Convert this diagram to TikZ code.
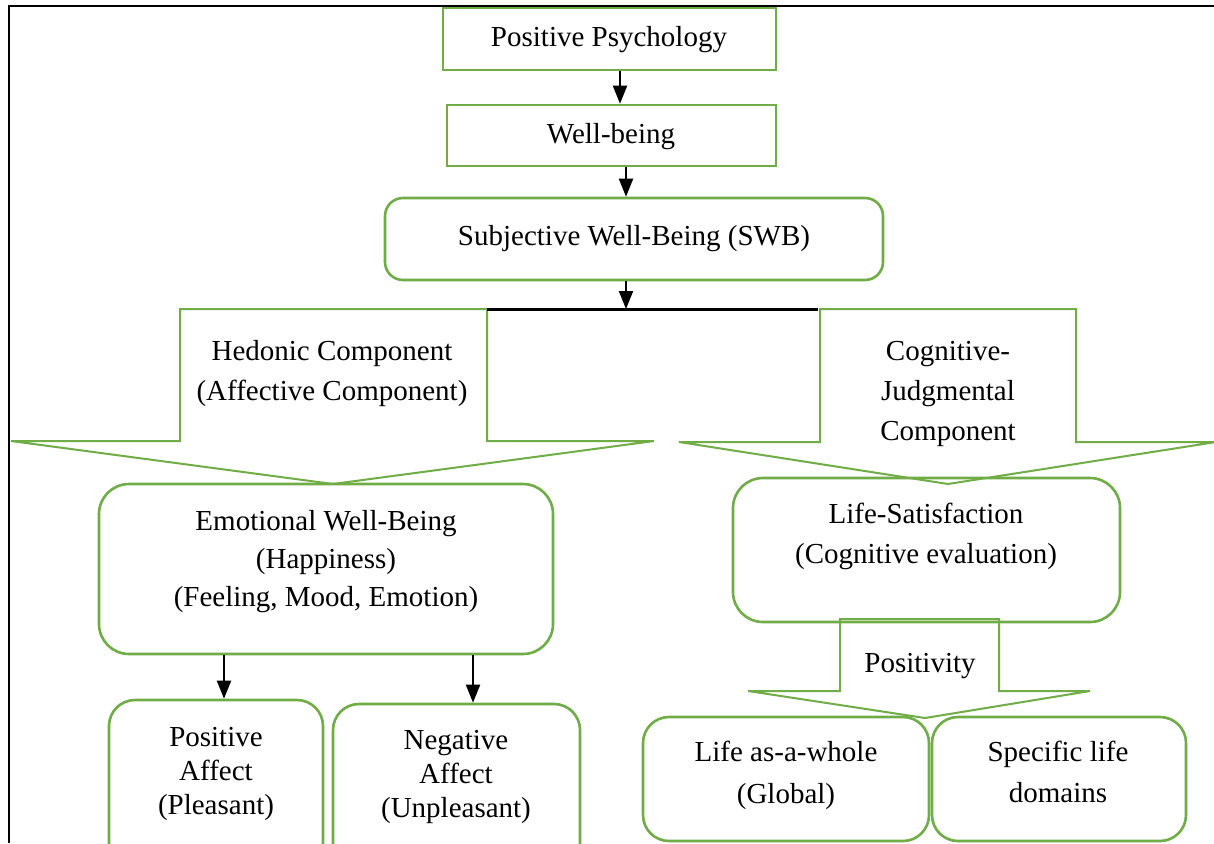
\documentclass[tikz,border=0pt]{standalone}
\usepackage{fontspec}
\setmainfont{Liberation Serif}
\usetikzlibrary{arrows.meta}
\definecolor{grn}{RGB}{112,173,71}
\begin{document}
\begin{tikzpicture}[x=1pt,y=-1pt,
  box/.style={draw=grn, line width=2.6pt, inner sep=0pt},
  rbox/.style={box, rounded corners=#1},
  lbl/.style={inner sep=0pt, align=center, font=\fontsize{29}{#1}\selectfont},
  lbl/.default=40,
  arr/.style={draw=black, line width=2pt, -{Triangle[width=14pt,length=18pt]}},
  blockarrow/.style={draw=grn, line width=2pt, line join=miter},
  frame/.style={draw=black, line width=1.5pt}]
\useasboundingbox (0,0) rectangle (1214,843);
\clip (0,0) rectangle (1214,843);
\fill[white] (0,0) rectangle (1214,843);
% frame
\draw[frame] (1214,6) -- (9,6) -- (9,843);

% top chain
\node[box, minimum width=333pt, minimum height=62pt] (pp) at (609.5,39) {};
\node[lbl] (ppt) at (609,40) {Positive Psychology};
\node[box, minimum width=329pt, minimum height=61pt] (wb) at (611.5,135.5) {};
\node[lbl] (wbt) at (611,137) {Well-being};
\node[rbox=18pt, minimum width=498pt, minimum height=82pt] (swb) at (634,239) {};
\node[lbl] (swbt) at (634,239) {Subjective Well-Being (SWB)};

% level boxes
\node[rbox=30pt, minimum width=454pt, minimum height=170pt] (emo) at (326,569) {};
\node[lbl=38] (emot) at (326,562) {Emotional Well-Being\\(Happiness)\\(Feeling, Mood, Emotion)};
\node[rbox=30pt, minimum width=387pt, minimum height=144pt] (ls) at (926.5,550) {};
\node[lbl] (lst) at (926,536) {Life-Satisfaction\\(Cognitive evaluation)};

% bottom boxes
\node[rbox=26pt, minimum width=214pt, minimum height=170pt] (pa) at (216,785) {};
\node[lbl=34] (pat) at (216,774) {Positive\\Affect\\(Pleasant)};
\node[rbox=26pt, minimum width=247pt, minimum height=170pt] (na) at (456.5,789) {};
\node[lbl=34] (nat) at (456,777) {Negative\\Affect\\(Unpleasant)};
\node[rbox=26pt, minimum width=286pt, minimum height=124pt] (law) at (786,779) {};
\node[lbl=42] (lawt) at (786,775) {Life as-a-whole\\(Global)};
\node[rbox=26pt, minimum width=254pt, minimum height=124pt] (sld) at (1059,779) {};
\node[lbl=41] (sldt) at (1058,772) {Specific life\\domains};

% block arrows
\draw[blockarrow] (180,309) -- (487,309) -- (487,441) -- (654,441) -- (333,484)
  -- (11,441) -- (180,441) -- cycle;
\node[lbl] (hed) at (332,374) {Hedonic Component\\(Affective Component)};
\draw[blockarrow] (820,309) -- (1076,309) -- (1076,442) -- (1216,442) -- (948,484)
  -- (679,442) -- (820,442) -- cycle;
\node[lbl] (cog) at (948,394) {Cognitive-\\Judgmental\\Component};
\draw[blockarrow] (840,619) -- (999,619) -- (999,691) -- (1090,691) -- (925,718)
  -- (748,691) -- (840,691) -- cycle;
\node[lbl] (pos) at (920,666) {Positivity};

% black bar joining the two components
\coordinate (barL) at (487,309);
\coordinate (barR) at (818,309);
\coordinate (bar) at (626,309);
\draw[black, line width=3pt] (barL) -- (barR);

% connectors
\coordinate (x1) at (620,0);
\coordinate (x2) at (626,0);
\coordinate (x3) at (224,0);
\coordinate (x4) at (473,0);
\draw[arr] (pp.south -| x1) -- (wb.north -| x1);
\draw[arr] (wb.south -| x2) -- (swb.north -| x2);
\draw[arr] (swb.south -| bar) -- (bar);
\draw[arr] (emo.south -| x3) -- (pa.north -| x3);
\draw[arr] (emo.south -| x4) -- (na.north -| x4);
\end{tikzpicture}
\end{document}
